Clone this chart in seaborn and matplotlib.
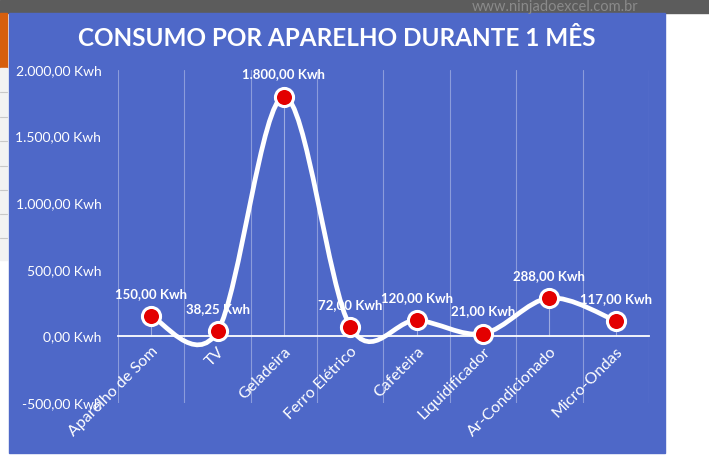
import numpy as np
import pandas as pd
import matplotlib
matplotlib.use("Agg")
import matplotlib.pyplot as plt
import matplotlib.patches as mpatches
from matplotlib.path import Path
import seaborn as sns

# dados do grafico
aparelhos = ["Aparelho de Som", "TV", "Geladeira", "Ferro Elétrico", "Cafeteira",
             "Liquidificador", "Ar-Condicionado", "Micro-Ondas"]
consumo = [150.00, 38.25, 1800.00, 72.00, 120.00, 21.00, 288.00, 117.00]
yticks = [-500, 0, 500, 1000, 1500, 2000]
titulo = "CONSUMO POR APARELHO DURANTE 1 MÊS"

n = len(consumo)
xs = np.arange(n)
df = pd.DataFrame({"pos": xs, "Aparelho": aparelhos, "Consumo": consumo})

azul = "#4E68C8"

sns.set_style("white")
plt.rcParams["font.family"] = ["Lato", "DejaVu Sans"]

fig = plt.figure(figsize=(7.09, 4.69), dpi=100)
fig.patch.set_facecolor("white")

# fundo da planilha (pedaco do excel no print)
fig.patches.append(mpatches.Rectangle((0, 1 - 13 / 469), 1, 13 / 469, transform=fig.transFigure,
                                      color="#5c5c5c", zorder=-10))
fig.patches.append(mpatches.Rectangle((0, 1 - 68 / 469), 7 / 709, 55 / 469, transform=fig.transFigure,
                                      color="#D65F0E", zorder=-10))
fig.patches.append(mpatches.Rectangle((0, 1 - 260 / 469), 7 / 709, 192 / 469, transform=fig.transFigure,
                                      color="#F2F2F2", zorder=-10))
for yy in [92, 117, 141, 166, 190, 214, 238]:
    fig.lines.append(plt.Line2D([0, 7 / 709], [1 - yy / 469] * 2, transform=fig.transFigure,
                                color="#c8c8c8", lw=0.8, zorder=-9))
# area do grafico
fig.patches.append(mpatches.Rectangle((9 / 709, 1 - 453 / 469), 656 / 709, 440 / 469,
                                      transform=fig.transFigure, color=azul, zorder=-10))
fig.text(555 / 709, 1 - 7 / 469, "www.ninjadoexcel.com.br", color="#8a8a8a", fontsize=10.5,
         ha="center", va="center")

ax = fig.add_axes([118 / 709, 1 - 403 / 469, 531 / 709, 333 / 469])
ax.patch.set_alpha(0)

# eixo x cruzando no zero (antes dos rotulos, senao reseta os ticks)
for s in ["top", "right", "left"]:
    ax.spines[s].set_visible(False)
ax.spines["bottom"].set_position(("data", 0))
ax.spines["bottom"].set_color("white")
ax.spines["bottom"].set_linewidth(1.3)

# linhas de queda ate o eixo
ax.vlines(xs, 0, consumo, color="white", alpha=0.45, lw=0.8, zorder=2)

# linha suavizada (estilo excel)
pts = np.column_stack([xs, consumo])
verts = [tuple(pts[0])]
codes = [Path.MOVETO]
for i in range(n - 1):
    ant = pts[i - 1] if i > 0 else pts[i]
    prox = pts[i + 2] if i + 2 < n else pts[i + 1]
    c1 = pts[i] + (pts[i + 1] - ant) / 6
    c2 = pts[i + 1] - (prox - pts[i]) / 6
    verts += [tuple(c1), tuple(c2), tuple(pts[i + 1])]
    codes += [Path.CURVE4] * 3
ax.add_patch(mpatches.PathPatch(Path(verts, codes), fill=False, edgecolor="white",
                                lw=3.4, zorder=3, capstyle="round"))

sns.scatterplot(data=df, x="pos", y="Consumo", ax=ax, s=170, color="#E30000",
                edgecolor="white", linewidth=2.2, zorder=5)


def fmt(v):
    s = f"{v:,.2f}"
    return s.replace(",", "X").replace(".", ",").replace("X", ".") + " Kwh"


for x, v in zip(xs, consumo):
    ax.annotate(fmt(v), (x, v), xytext=(0, 16), textcoords="offset points",
                ha="center", va="center", color="white", fontsize=9.5, fontweight="bold", zorder=6)

ax.set_xlim(-0.5, n - 0.5)
ax.set_ylim(-500, 2000)
ax.set_yticks(yticks)
ax.set_yticklabels([fmt(v) for v in yticks], color="white", fontsize=10)
ax.set_xticks(xs)
ax.set_xticklabels(aparelhos, rotation=45, ha="right", rotation_mode="anchor",
                   color="white", fontsize=11.5)
ax.set_xticks(np.arange(-0.5, n, 1), minor=True)
ax.tick_params(axis="both", which="both", length=0)
ax.tick_params(axis="y", pad=12)
ax.tick_params(axis="x", pad=6)
ax.grid(False)
ax.grid(True, axis="x", which="minor", color="white", alpha=0.35, lw=0.8)
ax.set_xlabel("")
ax.set_ylabel("")

fig.text(337 / 709, 1 - 38 / 469, titulo, color="white", fontsize=17.5, fontweight="bold",
         ha="center", va="center")

fig.savefig("out.png", dpi=100)
